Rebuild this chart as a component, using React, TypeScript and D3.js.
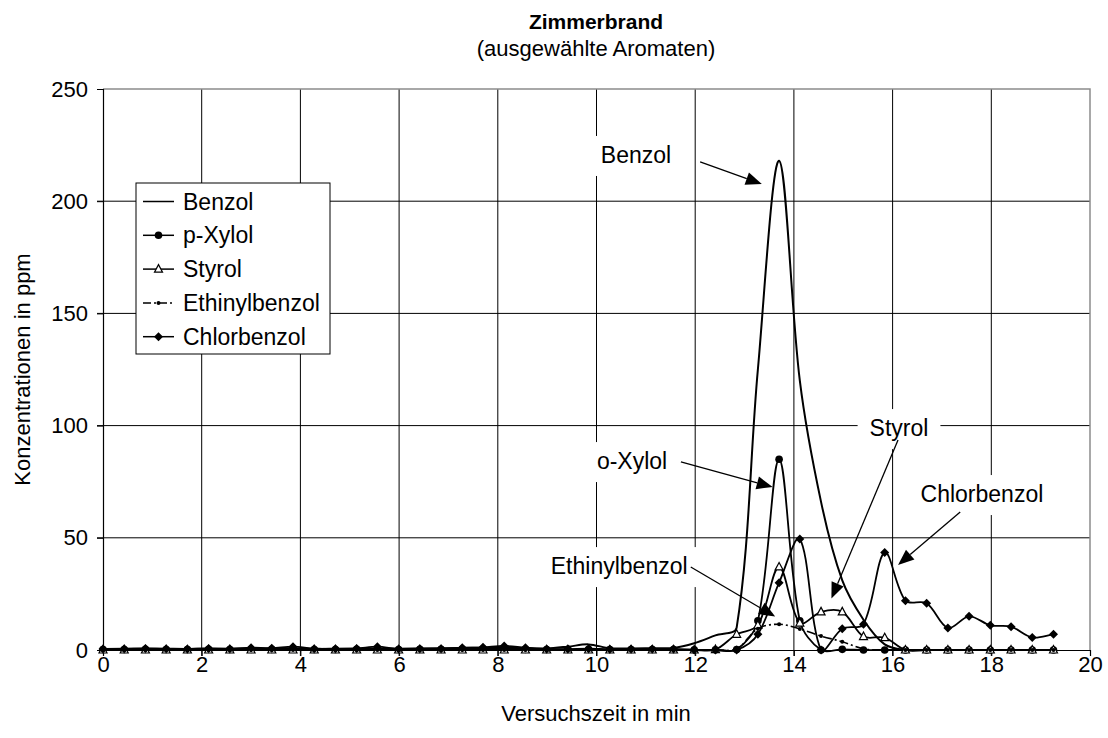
import React, { useEffect, useRef } from 'react';
import * as d3 from 'd3';

// sample times in min (same for every substance)
const times = [0, 0.43, 0.86, 1.28, 1.71, 2.14, 2.57, 3.0, 3.42, 3.85, 4.28, 4.71, 5.14, 5.56, 5.99, 6.42, 6.85, 7.28, 7.7, 8.13,
  8.56, 8.99, 9.42, 9.84, 10.27, 10.7, 11.13, 11.56, 11.98, 12.41, 12.84, 13.27, 13.7, 14.12, 14.55, 14.98, 15.41, 15.84, 16.26, 16.69,
  17.12, 17.55, 17.98, 18.4, 18.83, 19.26];

const benzol = [0.5, 0.5, 0.6, 0.5, 0.5, 0.6, 0.5, 0.6, 0.7, 0.8, 0.6, 0.5, 0.6, 0.7, 0.6, 0.7, 0.8, 0.9, 1.0, 1.1,
  0.8, 0.7, 1.5, 2.5, 0.8, 0.7, 0.8, 0.9, 3, 6.5, 10, 125, 218, 120, 66, 31, 13.5, 2.5, 0, 0,
  0, 0, 0, 0, 0, 0];
const pXylol = [0.2, 0.2, 0.3, 0.2, 0.2, 0.3, 0.2, 0.3, 0.3, 0.4, 0.2, 0.2, 0.3, 0.4, 0.2, 0.3, 0.3, 0.4, 0.5, 0.6,
  0.3, 0.2, 0.3, 0.3, 0.2, 0.2, 0.2, 0.2, 0.1, 0.1, 0.2, 13, 85, 13, 0, 0.3, 0, 0, 0, 0,
  0, 0, 0, 0, 0, 0];
const styrol = [0, 0, 0, 0, 0, 0, 0, 0, 0, 0, 0, 0, 0, 0, 0, 0, 0, 0, 0, 0,
  0, 0, 0, 0, 0, 0, 0, 0, 0, 0.2, 7, 11, 37, 12, 17, 17, 6, 5.5, 0, 0,
  0, 0, 0, 0, 0, 0];
const ethinylbenzol = [0, 0, 0, 0, 0, 0, 0, 0, 0, 0, 0, 0, 0, 0, 0, 0, 0, 0, 0, 0,
  0, 0, 0, 0, 0, 0, 0, 0, 0, 0, 0.5, 9.5, 11.5, 9.4, 6.2, 3.7, 0.5, 0, 0, 0,
  0, 0, 0, 0, 0, 0];
const chlorbenzol = [0.5, 0.6, 0.7, 0.6, 0.5, 0.7, 0.6, 1.0, 0.8, 1.5, 0.6, 0.6, 0.7, 1.5, 0.4, 0.6, 0.6, 1.0, 1.2, 1.8,
  1.0, 0.4, 0.4, 0.6, 0.3, 0.5, 0.4, 0.5, 0, 0, 0, 7, 30, 49.5, 0, 9.5, 11.5, 43.5, 22, 20.8,
  9.8, 15, 11, 10.4, 5.6, 7];

const seriesNames = ['Benzol', 'p-Xylol', 'Styrol', 'Ethinylbenzol', 'Chlorbenzol'];
const xTicks = [0, 2, 4, 6, 8, 10, 12, 14, 16, 18, 20];
const yTicks = [0, 50, 100, 150, 200, 250];

// text callouts with arrows (data units)
const callouts = [
  { text: 'Benzol', at: [10.8, 220.6], from: [12.1, 217.5], to: [13.35, 207.7] },
  { text: 'o-Xylol', at: [10.72, 84.2], from: [11.71, 83.8], to: [13.57, 72.6] },
  { text: 'Styrol', at: [16.13, 98.9], from: [16.11, 93.6], to: [14.76, 22.9] },
  { text: 'Chlorbenzol', at: [17.81, 69.5], from: [17.37, 61.5], to: [16.11, 37.9] },
  { text: 'Ethinylbenzol', at: [10.46, 37.4], from: [11.91, 37.0], to: [13.62, 14.9] },
];

const FONT = '"Liberation Sans", Arial, Helvetica, sans-serif';

function drawMarker(g, kind, x, y) {
  if (kind === 'circle') {
    g.append('circle').attr('cx', x).attr('cy', y).attr('r', 3.8).attr('fill', '#000');
  } else if (kind === 'triangle') {
    g.append('path')
      .attr('d', `M${x},${y - 4.5}L${x + 4},${y + 3}L${x - 4},${y + 3}Z`)
      .attr('fill', '#fff').attr('stroke', '#000').attr('stroke-width', 1.2);
  } else if (kind === 'dot') {
    g.append('circle').attr('cx', x).attr('cy', y).attr('r', 2).attr('fill', '#000');
  } else if (kind === 'diamond') {
    g.append('path')
      .attr('d', `M${x},${y - 4.5}L${x + 4.5},${y}L${x},${y + 4.5}L${x - 4.5},${y}Z`)
      .attr('fill', '#000');
  }
}

// spreadsheet-style smoothing: bezier handles along (next - prev),
// split by the length of the neighbouring segments
function smoothPath(pts) {
  const p = d3.path();
  const dist = (a, b) => Math.hypot(b[0] - a[0], b[1] - a[1]);
  p.moveTo(pts[0][0], pts[0][1]);
  for (let i = 0; i < pts.length - 1; i++) {
    const p0 = pts[i - 1] || pts[i];
    const p1 = pts[i];
    const p2 = pts[i + 1];
    const p3 = pts[i + 2] || pts[i + 1];
    const d01 = dist(p0, p1), d12 = dist(p1, p2), d23 = dist(p2, p3);
    const f1 = d12 / (d01 + d12 || 1) / 3;
    const f2 = d12 / (d12 + d23 || 1) / 3;
    const c1 = [p1[0] + (p2[0] - p0[0]) * f1, p1[1] + (p2[1] - p0[1]) * f1];
    const c2 = [p2[0] - (p3[0] - p1[0]) * f2, p2[1] - (p3[1] - p1[1]) * f2];
    p.bezierCurveTo(c1[0], c1[1], c2[0], c2[1], p2[0], p2[1]);
  }
  return p.toString();
}

function App() {
  const svgRef = useRef(null);

  useEffect(() => {
    const svg = d3.select(svgRef.current);
    svg.selectAll('*').remove();

    const x = d3.scaleLinear().domain([0, 20]).range([103, 1090]);
    const y = d3.scaleLinear().domain([0, 250]).range([650, 89]);

    // grid
    const grid = svg.append('g');
    xTicks.filter(t => t > 0 && t < 20).forEach(t => {
      grid.append('line').attr('x1', x(t)).attr('x2', x(t)).attr('y1', y(250)).attr('y2', y(0) + 6)
        .attr('stroke', '#000').attr('stroke-width', 1);
    });
    yTicks.filter(t => t > 0 && t < 250).forEach(t => {
      grid.append('line').attr('x1', x(0) - 6).attr('x2', x(20)).attr('y1', y(t)).attr('y2', y(t))
        .attr('stroke', '#000').attr('stroke-width', 1);
    });
    // grey frame top/right
    grid.append('path')
      .attr('d', `M${x(0)},${y(250)}H${x(20)}V${y(0)}`)
      .attr('fill', 'none').attr('stroke', '#8c8c8c').attr('stroke-width', 1.5);

    // axes
    const xAxis = svg.append('g').attr('transform', `translate(0,${y(0)})`)
      .call(d3.axisBottom(x).tickValues(xTicks).tickSize(6).tickFormat(d3.format('d')));
    const yAxis = svg.append('g').attr('transform', `translate(${x(0)},0)`)
      .call(d3.axisLeft(y).tickValues(yTicks).tickSize(6).tickFormat(d3.format('d')));
    [xAxis, yAxis].forEach(a => {
      a.select('.domain').attr('stroke', '#000').attr('stroke-width', 1.2);
      a.selectAll('line').attr('stroke', '#000');
      a.selectAll('text').attr('font-family', FONT).attr('font-size', 22).attr('fill', '#000');
    });
    xAxis.selectAll('text').attr('y', 14).attr('dy', '0.35em');
    yAxis.selectAll('text').attr('x', -15);

    const series = [
      { values: benzol, marker: null, dash: null, width: 2 },
      { values: pXylol, marker: 'circle', dash: null, width: 1.8 },
      { values: styrol, marker: 'triangle', dash: null, width: 1.8 },
      { values: ethinylbenzol, marker: 'dot', dash: '9,3,2,3', width: 1.6 },
      { values: chlorbenzol, marker: 'diamond', dash: null, width: 1.8 },
    ];

    const plot = svg.append('g');
    series.forEach(s => {
      const pts = s.values.map((v, i) => [x(times[i]), y(v)]);
      plot.append('path')
        .attr('d', smoothPath(pts))
        .attr('fill', 'none')
        .attr('stroke', '#000')
        .attr('stroke-width', s.width)
        .attr('stroke-dasharray', s.dash);
      if (s.marker) {
        const mg = plot.append('g');
        pts.forEach(pt => drawMarker(mg, s.marker, pt[0], pt[1]));
      }
    });

    // callouts
    const ann = svg.append('g');
    callouts.forEach(c => {
      const box = ann.append('rect').attr('fill', '#fff');
      const t = ann.append('text')
        .attr('x', x(c.at[0])).attr('y', y(c.at[1]))
        .attr('dy', '0.35em')
        .attr('text-anchor', 'middle')
        .attr('font-family', FONT).attr('font-size', 23)
        .text(c.text);
      const w = t.node().getComputedTextLength();
      box.attr('x', x(c.at[0]) - w / 2 - 12).attr('y', y(c.at[1]) - 19)
        .attr('width', w + 24).attr('height', 40);

      const x1 = x(c.from[0]), y1 = y(c.from[1]);
      const x2 = x(c.to[0]), y2 = y(c.to[1]);
      const ang = Math.atan2(y2 - y1, x2 - x1);
      const len = 16, half = 6.5;
      const bx = x2 - len * Math.cos(ang), by = y2 - len * Math.sin(ang);
      ann.append('line').attr('x1', x1).attr('y1', y1).attr('x2', bx).attr('y2', by)
        .attr('stroke', '#000').attr('stroke-width', 1.3);
      ann.append('path')
        .attr('d', `M${x2},${y2}L${bx + half * Math.sin(ang)},${by - half * Math.cos(ang)}L${bx - half * Math.sin(ang)},${by + half * Math.cos(ang)}Z`)
        .attr('fill', '#000');
    });

    // legend
    const lg = svg.append('g');
    lg.append('rect').attr('x', 136).attr('y', 183).attr('width', 194).attr('height', 171)
      .attr('fill', '#fff').attr('stroke', '#000').attr('stroke-width', 1);
    seriesNames.forEach((name, i) => {
      const s = series[i];
      const cy = 201.5 + i * 33.8;
      lg.append('line').attr('x1', 143).attr('x2', 174).attr('y1', cy).attr('y2', cy)
        .attr('stroke', '#000').attr('stroke-width', 1.5)
        .attr('stroke-dasharray', s.dash ? '8,3,2,3' : null);
      if (s.marker) drawMarker(lg, s.marker, 158.5, cy);
      lg.append('text').attr('x', 183).attr('y', cy).attr('dy', '0.35em')
        .attr('font-family', FONT).attr('font-size', 23).text(name);
    });

    // titles
    svg.append('text').attr('x', 596).attr('y', 22).attr('dy', '0.35em').attr('text-anchor', 'middle')
      .attr('font-family', FONT).attr('font-size', 21).attr('font-weight', 'bold').text('Zimmerbrand');
    svg.append('text').attr('x', 596).attr('y', 48).attr('dy', '0.35em').attr('text-anchor', 'middle')
      .attr('font-family', FONT).attr('font-size', 22).text('(ausgewählte Aromaten)');
    svg.append('text').attr('x', 596).attr('y', 713).attr('dy', '0.35em').attr('text-anchor', 'middle')
      .attr('font-family', FONT).attr('font-size', 22).text('Versuchszeit in min');
    svg.append('text').attr('transform', `translate(22,${(y(0) + y(250)) / 2}) rotate(-90)`)
      .attr('dy', '0.35em').attr('text-anchor', 'middle')
      .attr('font-family', FONT).attr('font-size', 22).text('Konzentrationen in ppm');
  }, []);

  return (
    <svg ref={svgRef} width={1108} height={738}
      style={{ position: 'absolute', left: 0, top: 0, background: '#fff' }} />
  );
}

export default App;
